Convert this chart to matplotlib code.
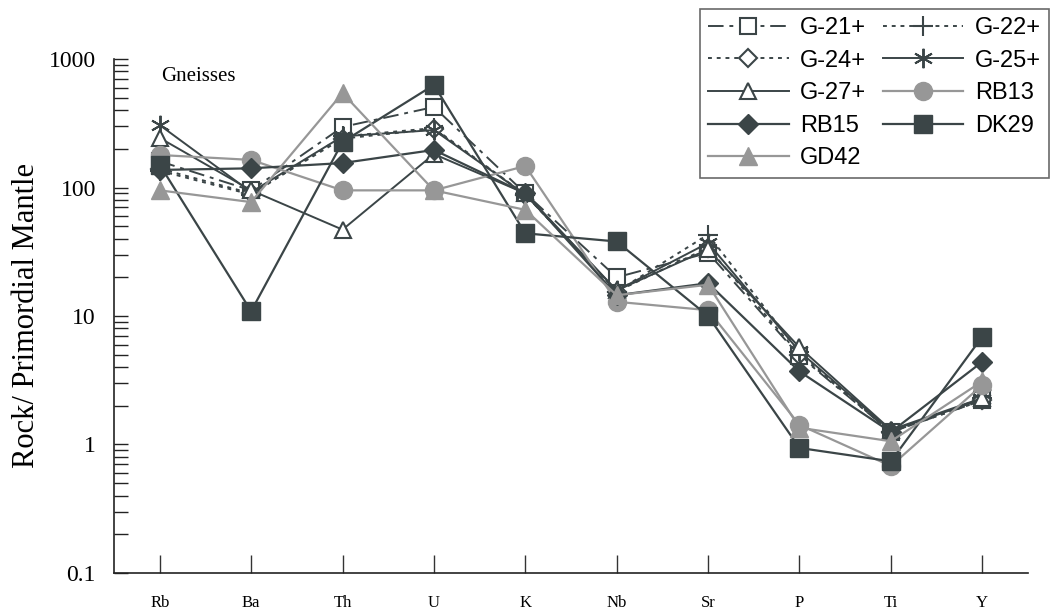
import matplotlib
matplotlib.use("Agg")
import matplotlib.pyplot as plt
from matplotlib.ticker import LogLocator, FixedLocator, NullFormatter

elements = ["Rb", "Ba", "Th", "U", "K", "Nb", "Sr", "P", "Ti", "Y"]

g21 = [160, 95, 296, 423, 90, 20, 31, 4.9, 1.25, 2.2]
g22 = [135, 88, 250, 290, 88, 15.5, 43, 5.2, 1.25, 2.3]
g24 = [140, 90, 240, 285, 88, 15.5, 34, 5.0, 1.25, 2.2]
g25 = [306, 92, 250, 280, 88, 15.8, 37, 5.3, 1.28, 2.25]
g27 = [243, 95, 47, 182, 90, 15.8, 33, 5.7, 1.3, 2.3]
rb13 = [179, 164, 95, 95, 147, 12.9, 11.1, 1.42, 0.68, 2.9]
rb15 = [137, 141, 155, 196, 90, 14.5, 18, 3.7, 1.25, 4.4]
dk29 = [150, 10.9, 226, 628, 44, 38, 10, 0.94, 0.74, 6.9]
gd42 = [95, 77, 543, 95, 67, 14.5, 17.5, 1.35, 1.06, 3.1]

dark = "#3b4547"
light = "#979797"

fig = plt.figure(figsize=(10.58, 6.14), dpi=100)
ax = fig.add_axes([0.1078, 0.0668, 0.8638, 0.8371])
x = list(range(len(elements)))

ms = 12
series = [
    ("G-21+", g21, dict(color=dark, ls=(0, (8, 3, 2, 3)), lw=1.4, marker="s", ms=ms, mfc="white", mec=dark, mew=1.5)),
    ("G-22+", g22, dict(color=dark, ls=(0, (2, 2.5)), lw=1.4, marker="+", ms=ms + 2, mec=dark, mew=1.5)),
    ("G-24+", g24, dict(color=dark, ls=(0, (2, 2.5)), lw=1.4, marker="D", ms=ms - 3, mfc="white", mec=dark, mew=1.5)),
    ("G-25+", g25, dict(color=dark, ls="-", lw=1.4, marker=(6, 2, 0), ms=ms + 2, mec=dark, mew=1.4)),
    ("G-27+", g27, dict(color=dark, ls="-", lw=1.4, marker="^", ms=ms, mfc="white", mec=dark, mew=1.5)),
    ("RB13", rb13, dict(color=light, ls="-", lw=1.6, marker="o", ms=ms + 1, mfc=light, mec=light)),
    ("RB15", rb15, dict(color=dark, ls="-", lw=1.6, marker="D", ms=ms - 2, mfc=dark, mec=dark)),
    ("DK29", dk29, dict(color=dark, ls="-", lw=1.6, marker="s", ms=ms + 1, mfc=dark, mec=dark)),
    ("GD42", gd42, dict(color=light, ls="-", lw=1.6, marker="^", ms=ms + 1, mfc=light, mec=light)),
]
lines = []
for name, vals, style in series:
    lines += ax.plot(x, vals, label=name, **style)

ax.set_yscale("log")
ax.set_ylim(0.1, 1000)
ax.set_xlim(-0.5, 9.5)

ax.yaxis.set_major_locator(FixedLocator([0.1, 1, 10, 100, 1000]))
ax.yaxis.set_minor_locator(LogLocator(base=10, subs=range(2, 10)))
ax.yaxis.set_minor_formatter(NullFormatter())
ax.set_yticklabels(["0.1", "1", "10", "100", "1000"], family="Liberation Serif", fontsize=17)
ax.tick_params(axis="y", which="both", direction="in", length=10, width=1, color="#222222", pad=13)

ax.set_xticks(x)
ax.set_xticklabels(elements, family="Liberation Serif", fontsize=12)
ax.tick_params(axis="x", direction="in", length=13, width=1, color="#333333", pad=16)

for side in ["top", "right"]:
    ax.spines[side].set_visible(False)
for side in ["left", "bottom"]:
    ax.spines[side].set_color("#222222")
    ax.spines[side].set_linewidth(1.2)

ax.set_ylabel("Rock/ Primordial Mantle", family="Liberation Serif", fontsize=22, labelpad=6)
ax.text(0.052, 0.985, "Gneisses", transform=ax.transAxes, family="Liberation Serif",
        fontsize=15, va="top", ha="left")

# two-column legend filled row by row
order = [0, 2, 4, 6, 8, 1, 3, 5, 7]
leg = fig.legend([lines[i] for i in order], [series[i][0] for i in order],
                 loc="upper right", bbox_to_anchor=(1.003, 1.005), ncol=2, frameon=True,
                 prop={"family": "Liberation Sans", "size": 17}, handlelength=3.4,
                 columnspacing=0.7, handletextpad=0.5, labelspacing=0.45, borderpad=0.35,
                 fancybox=False, edgecolor="#444444")
leg.get_frame().set_linewidth(1.2)

fig.savefig("out.png", dpi=100)
